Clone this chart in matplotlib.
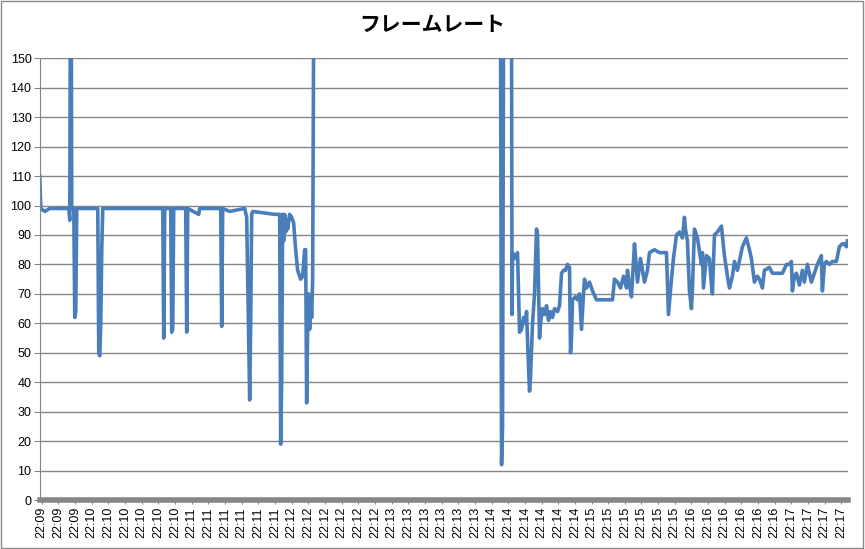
import numpy as np
import matplotlib
matplotlib.use("Agg")
import matplotlib.pyplot as plt

plt.rcParams['font.family'] = ['Noto Sans CJK JP', 'DejaVu Sans']

# elapsed seconds from 22:09:xx start, and frame rate; NaN marks the gap in logging
secs_a = [0,0.6,3,6,9,17.4,18,18.3,18.9,19.2,20.4,21,21.6,22.2,34.8,35.4,36,36.6,37.2,37.8,
          73.8,74.4,75,78.6,79.2,79.8,80.4,87.6,88.2,88.8,95.4,96,108.6,109.2,109.8,114,123,
          124.2,124.8,126,126.6,127.2,127.8,141,144,144.6,145.2,145.8,146.4,147,147.6,148.2,
          148.8,150,151.2,152.4,153.6,154.8,156.6,157.8,159,159.6,160.2,160.8,161.4,162,162.6,
          163.2,163.8,164.4]
fps_a = [110,99,98,99,99,99,95,160,160,99,99,62,64,99,99,50,49,60,85,99,
         99,55,99,99,57,58,99,99,57,99,97,99,99,59,99,98,99,
         96,75,34,60,97,98,97,97,19,40,97,88,97,91,95,
         92,97,96,94,85,78,75,76,85,85,33,58,70,58,68,
         62,75,160]
secs_b = [276.6,277.2,277.8,278.4,283.2,283.5,283.8,285,286.8,288,289.2,290.4,291.6,292.2,293.4,
          294,294.6,295.8,297,298.2,298.8,300,300.6,301.8,303,304.2,305.4,306.6,307.8,309,310.8,
          312,313.2,314.4,315.6,316.8,318,318.6,319.2,319.8,321.6,322.8,324,325.2,326.4,327,328.2,
          330,331.8,334.2,339,343.8,345,346.8,348.6,350.4,352.2,352.8,354,355.2,357,357.6,358.8,
          360.6,363,364.8,366,369,372,376.2,377.4,379.2,380.4,382.2,384,385.8,387,387.6,388.8,
          390,391.2,391.8,393,394.8,397.2,397.8,398.4,400.2,402,403.2,403.8,405,406.8,409.2,411,
          412.8,414,415.8,417,418.8,421.8,424.2,426,427.2,429,430.8,432,433.8,435,438,439.8,442.8,
          445.8,448.2,450,451.2,451.8,453,454.2,456,457.8,459,460.8,462,463.2,465,466.8,469.2,
          469.8,471,472.2,474,475.8,478.2,480,481.8,483,484.2,484.8]
fps_b = [160,12,25,160,160,63,84,82,84,57,58,62,60,64,45,
         37,42,60,70,92,90,55,60,65,63,66,61,64,62,65,64,
         66,77,78,78,80,79,50,55,68,69,68,70,58,70,75,72,
         74,71,68,68,68,75,74,72,76,72,78,73,69,87,83,74,
         82,74,78,84,85,84,84,63,75,82,90,91,89,96,92,88,
         71,65,72,92,89,80,84,72,83,82,73,70,90,91,93,83,
         76,72,76,81,78,86,89,85,82,74,76,75,72,78,79,77,77,
         77,80,80,81,71,76,77,73,78,74,80,77,74,77,80,83,
         71,80,81,80,81,81,86,87,87,86,88]

tick_labels = (["22:09"] * 3 + ["22:10"] * 6 + ["22:11"] * 6 + ["22:12"] * 6 + ["22:13"] * 6 +
               ["22:14"] * 6 + ["22:15"] * 6 + ["22:16"] * 6 + ["22:17"] * 4)

secs = secs_a + [np.nan] + secs_b
fps = fps_a + [np.nan] + fps_b

fig = plt.figure(figsize=(8.65, 5.49), dpi=100)
fig.patch.set_facecolor('white')
ax = fig.add_axes([0.046, 0.089, 0.934, 0.805])
ax.plot(secs, fps, color='#4a7ebb', lw=2.6, solid_joinstyle='round')
ax.set_ylim(0, 150)
ax.set_xlim(0, 485)
ax.set_yticks(range(0, 151, 10))
ax.set_yticklabels([str(v) for v in range(0, 151, 10)], fontsize=9, fontfamily='Liberation Sans')
ax.tick_params(axis='y', length=4, color='#888888', pad=2)
ticks = [1.2 + 10 * i for i in range(len(tick_labels))]
ax.set_xticks(ticks)
ax.set_xticklabels(tick_labels, rotation=90, fontsize=9, fontfamily='Liberation Sans')
ax.tick_params(axis='x', length=3, color='#888888', pad=2)
ax.grid(axis='y', color='#868686', lw=1)
ax.set_axisbelow(True)
for s in ['top', 'right']:
    ax.spines[s].set_visible(False)
ax.spines['left'].set_color('#868686')
ax.spines['bottom'].set_color('#868686')
ax.spines['bottom'].set_linewidth(4)
fig.text(0.5, 0.955, 'フレームレート', ha='center', va='center', fontsize=15, fontweight='bold')
fig.add_artist(plt.Rectangle((0.001, 0.002), 0.997, 0.996, transform=fig.transFigure,
                             fill=False, edgecolor='#888888', lw=1))
fig.savefig('out.png', dpi=100)
